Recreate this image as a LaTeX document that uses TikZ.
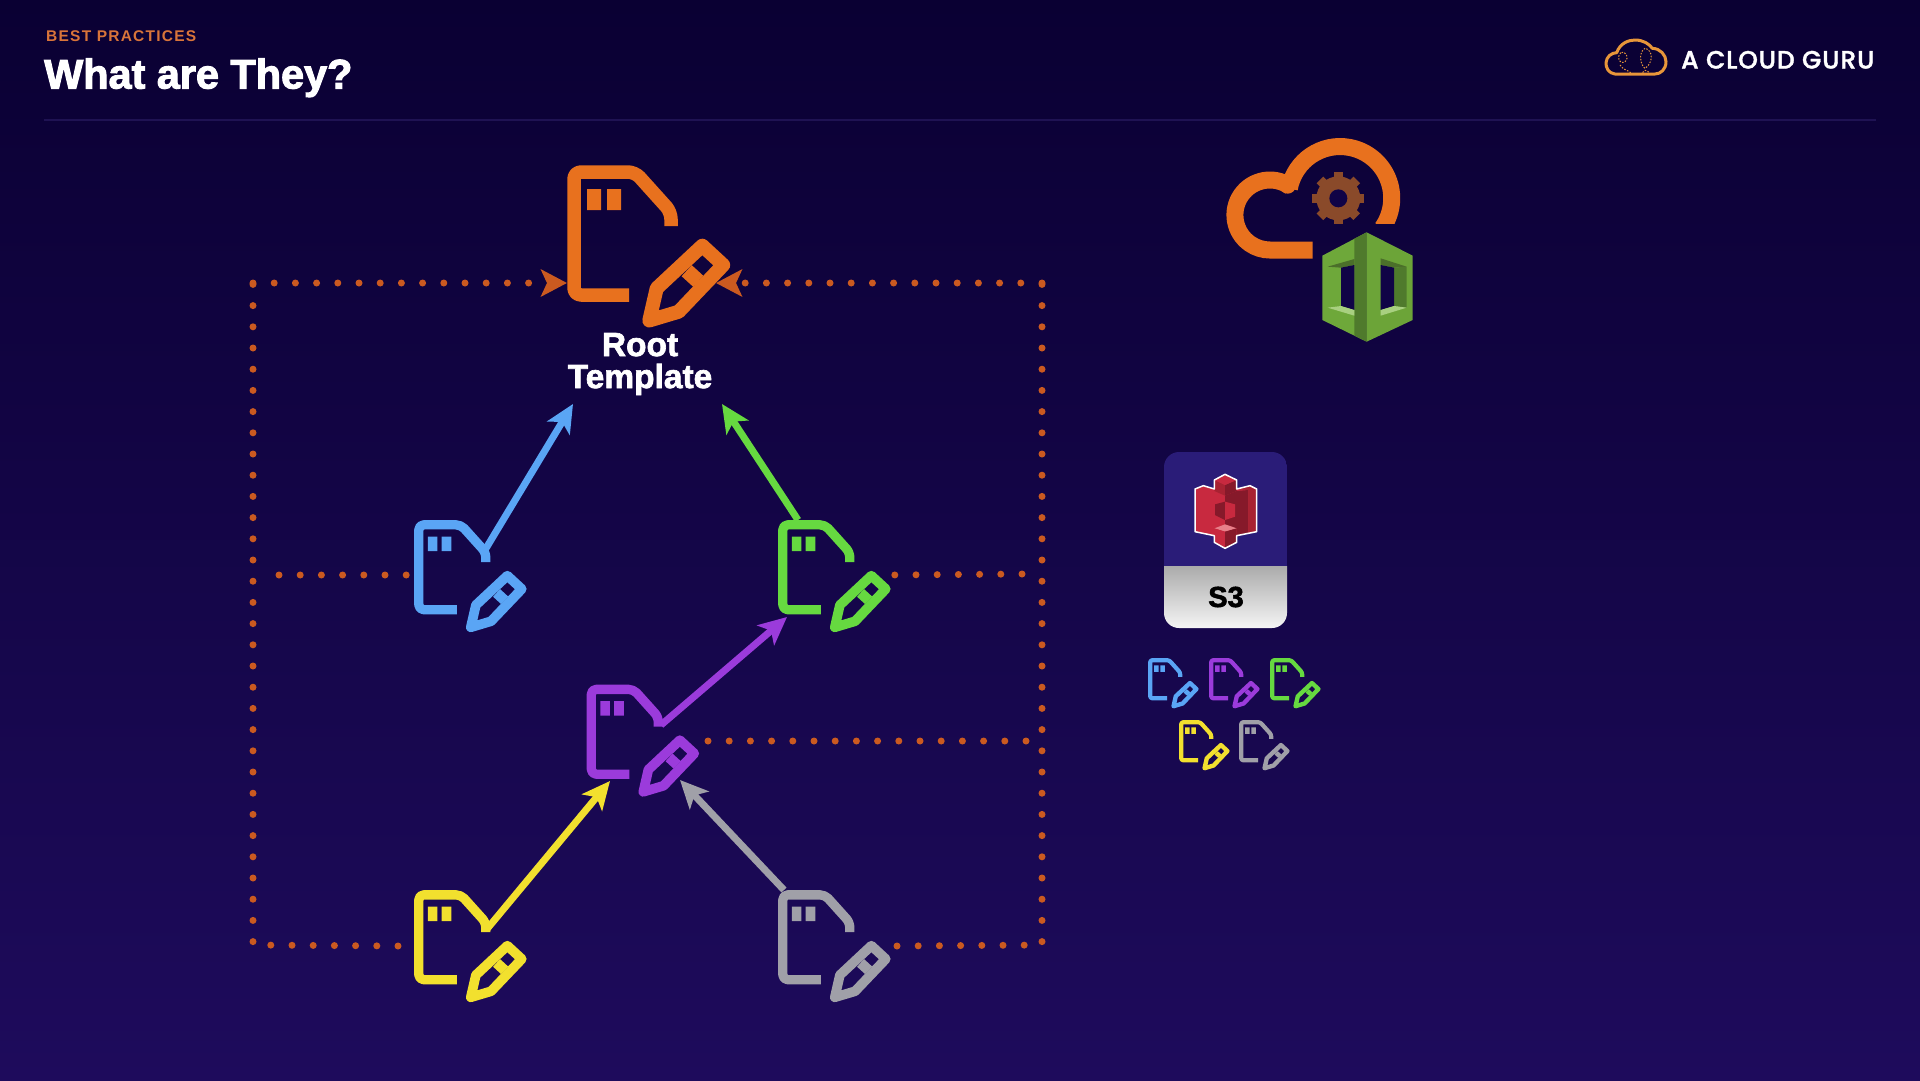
\documentclass[tikz,border=0pt]{standalone}
\usepackage{fontspec}
\usetikzlibrary{arrows.meta}
\setmainfont{Liberation Sans}
\newfontfamily\popfont{Poppins Medium}
\definecolor{bgtop}{HTML}{0A0033}
\definecolor{bgbot}{HTML}{1E0B5C}
\definecolor{bgmid}{HTML}{100346}
\definecolor{cOrange}{HTML}{E8711E}
\definecolor{cBlue}{HTML}{5AA5F5}
\definecolor{cGreen}{HTML}{66D940}
\definecolor{cPurple}{HTML}{9B3BDB}
\definecolor{cYellow}{HTML}{F2E02E}
\definecolor{cGrey}{HTML}{A0A0A8}
\definecolor{cDot}{HTML}{CB5A20}
\definecolor{cKick}{HTML}{D9743A}
\definecolor{cRule}{HTML}{1F1253}
\definecolor{gLight}{HTML}{6EA83A}
\definecolor{gRight}{HTML}{6CA438}
\definecolor{gDark}{HTML}{4B6F2A}
\definecolor{gMid}{HTML}{4F7A2C}
\definecolor{gSill}{HTML}{A8D080}
\definecolor{rLight}{HTML}{C8293F}
\definecolor{rMid}{HTML}{A82232}
\definecolor{rDark}{HTML}{86192A}
\definecolor{rPink}{HTML}{E8808A}
\definecolor{cardTop}{HTML}{2A1C78}
\definecolor{gearc}{HTML}{8A4A2A}
\definecolor{logoc}{HTML}{E8963A}
\newcommand{\docicon}[5]{% name, x, y, scale, colour
  \begin{scope}[shift={(#2,#3)},scale=#4]
    \coordinate (#1) at (0,0);
    \draw[#5,line width=13.5*#4 pt,line cap=butt,line join=round,rounded corners=7*#4 pt]
      (62,130) -- (7,130) -- (7,7) -- (68,7) -- (104,47) -- (104,61);
    \fill[#5] (20,24) rectangle (34,45) (40,24) rectangle (54,45);
    \draw[#5,line width=14*#4 pt,line join=round]
      (82.3,155.5) -- (89.7,123.3) -- (135.3,80.7) -- (156.2,100) -- (111.7,146.7) -- cycle;
    \draw[#5,line width=15*#4 pt] (119.7,105.7) -- (131.3,116.3);
  \end{scope}}
\tikzset{
  dotline/.style={cDot,line width=7pt,line cap=round,dash pattern=on 0pt off 21.2pt},
  dottip/.style={-{Stealth[length=26pt,width=27pt,inset=6pt,cDot]}},
  link/.style={line width=7pt,-{Stealth[length=28pt,width=26pt,inset=7pt]}},
  root/.style={font=\fontsize{33.5}{32}\selectfont,text=white,align=center}
}
\begin{document}
\begin{tikzpicture}[x=1pt,y=1pt,yscale=-1]
\useasboundingbox (0,0) rectangle (1920,1080);
\shade[top color=bgtop,bottom color=bgbot] (0,0) rectangle (1920,1080);
% header
\node[anchor=base west,inner sep=0,text=cKick,font=\bfseries\fontsize{15.5}{18}\selectfont] (kicker) at (46,41) {\addfontfeature{LetterSpace=8}BEST PRACTICES};
\node[anchor=base west,inner sep=0,text=white,font=\bfseries\fontsize{41.4}{46}\selectfont] (title) at (44,88.5) {\addfontfeature{FakeBold=2.5}What are They?};
\draw[cRule,line width=2pt] (44,120) -- (1876,120);
\node[anchor=base west,inner sep=0,text=white,font=\popfont\fontsize{25}{28}\selectfont] (brand) at (1681,68.5) {\addfontfeature{LetterSpace=3.6,FakeBold=1.5}A CLOUD GURU};
% logo cloud
\begin{scope}[shift={(1590,20)},scale=1/3]
  \draw[color=logoc,line width=3pt,line join=round]
    (75,162) .. controls (55,160) and (47,142) .. (48,128) .. controls (49,110) and (65,98) .. (80,98)
    .. controls (90,70) and (115,60) .. (135,60) .. controls (160,60) and (178,72) .. (187,85)
    .. controls (210,85) and (228,105) .. (228,125) .. controls (228,148) and (212,162) .. (195,162) -- cycle;
  \draw[color=logoc,line width=1pt,dash pattern=on 1.5pt off 1.5pt]
    (92,98) .. controls (78,112) and (88,135) .. (105,125) .. controls (120,112) and (105,90) .. (92,98)
    (90,135) .. controls (100,150) and (112,150) .. (122,158)
    (165,85) .. controls (145,95) and (150,135) .. (165,145) .. controls (190,130) and (190,90) .. (165,85)
    (158,158) .. controls (162,150) and (168,148) .. (178,158);
\end{scope}
% dotted links
\coordinate (rootL) at (567,283);
\coordinate (rootR) at (716,283);
\coordinate (lc1) at (253,283);
\coordinate (lc2) at (253,945);
\coordinate (lend) at (398,946);
\coordinate (rc1) at (1042,283);
\coordinate (rc2) at (1042,945);
\coordinate (rend) at (897,946);
\coordinate (bl) at (279,575);
\coordinate (blE) at (408,575);
\coordinate (gr) at (1022,574);
\coordinate (grE) at (890,575);
\coordinate (pr) at (1036,741);
\coordinate (prE) at (708,741);
\draw[dotline] (lend) -- (lc2) -- (lc1);
\draw[dotline] (rend) -- (rc2) -- (rc1);
\draw[dotline] (bl) -- (blE);
\draw[dotline] (gr) -- (grE);
\draw[dotline] (prE) -- (pr);
\draw[dotline,dottip] (lc1) -- (rootL);
\draw[dotline,dottip] (rc1) -- (rootR);
% big icons
\docicon{iroot}{567}{165}{1}{cOrange}
\docicon{iblue}{414}{520}{.69}{cBlue}
\docicon{igreen}{778}{520}{.69}{cGreen}
\docicon{ipurple}{586.5}{684.5}{.69}{cPurple}
\docicon{iyellow}{414}{890}{.69}{cYellow}
\docicon{igrey}{778}{890}{.69}{cGrey}
\node[root] (roottext) at (640,364) {\bfseries\addfontfeature{FakeBold=2}Root\\\bfseries\addfontfeature{FakeBold=2}Template};
% arrows
\coordinate (blueOut) at (485,550);
\coordinate (greenOut) at (798,520);
\coordinate (purpleOut) at (661,725);
\coordinate (yellowOut) at (487,929);
\coordinate (greyOut) at (784,890);
\coordinate (rootInL) at (573,404);
\coordinate (rootInR) at (722,404);
\coordinate (greenIn) at (787,617);
\coordinate (purpleInL) at (610,781);
\coordinate (purpleInR) at (680,780);
\draw[link,cBlue] (blueOut) -- (rootInL);
\draw[link,cGreen] (greenOut) -- (rootInR);
\draw[link,cPurple] (purpleOut) -- (greenIn);
\draw[link,cYellow] (yellowOut) -- (purpleInL);
\draw[link,cGrey] (greyOut) -- (purpleInR);
% CloudFormation cloud
\begin{scope}[shift={(1200,120)},scale=1/3]
  \begin{scope}
    \clip (200,0) rectangle (700,310);
    \draw[cOrange,line width=17pt] (268,205) arc (191:395:155);
  \end{scope}
  \draw[cOrange,line width=17pt] (270,199) arc (-55:-270:105) -- (338,390);
  \fill[cOrange] (263,196) circle (25);
  \begin{scope}[shift={(415,235)}]
    \foreach \a in {0,45,...,315}{\fill[gearc,rotate=\a] (-14,-78) rectangle (14,-50);}
    \fill[gearc] (0,0) circle (66);
    \fill[bgmid] (0,0) circle (27);
  \end{scope}
\end{scope}
% cube
\begin{scope}[shift={(1310,225)},scale=1/3]
  \fill[gLight] (37,92) -- (170,22) -- (170,350) -- (37,285) -- cycle;
  \fill[gRight] (170,22) -- (308,92) -- (308,285) -- (170,350) -- cycle;
  \fill[gMid] (133,41) -- (170,22) -- (170,350) -- (133,332) -- cycle;
  \fill[gDark] (53,125) -- (133,102) -- (133,120) -- (93,128) -- cycle;
  \fill[bgmid] (93,128) -- (133,120) -- (133,255) -- (93,243) -- cycle;
  \fill[gSill] (53,248) -- (93,243) -- (133,255) -- (133,272) -- cycle;
  \fill[gDark] (212,100) -- (290,125) -- (252,128) -- (212,120) -- cycle;
  \fill[gMid] (252,128) -- (290,125) -- (290,248) -- (252,243) -- cycle;
  \fill[bgmid] (212,120) -- (252,128) -- (252,243) -- (212,255) -- cycle;
  \fill[gSill] (212,255) -- (252,243) -- (290,248) -- (212,272) -- cycle;
\end{scope}
% S3 card
\begin{scope}
  \clip[rounded corners=15pt] (1164,452) rectangle (1287,628);
  \fill[cardTop] (1164,452) rectangle (1287,566);
  \shade[top color=black!33,bottom color=black!4] (1164,566) rectangle (1287,628);
\end{scope}
\node[text=black,inner sep=0,font=\bfseries\fontsize{29}{30}\selectfont] (s3) at (1226,597) {\addfontfeature{FakeBold=2}S3};
\begin{scope}[shift={(1185,465)},scale=1/3]
  \fill[rLight]
    (120,28) -- (155,45) -- (155,72) -- (195,62) -- (215,72) -- (215,200) -- (155,212) -- (155,232) -- (120,250)
    -- (88,232) -- (88,212) -- (30,200) -- (30,72) -- (55,62) -- (88,72) -- (88,45) -- cycle;
  \fill[rDark] (120,92) -- (155,78) -- (190,75) -- (190,205) -- (155,212) -- (155,190) -- (120,178) -- cycle;
  \fill[rMid] (155,72) -- (195,62) -- (215,72) -- (215,200) -- (190,205) -- (190,75) -- cycle;
  \fill[rMid] (88,45) -- (120,60) -- (120,92) -- (88,78) -- cycle;
  \fill[rDark] (120,60) -- (155,45) -- (155,78) -- (120,92) -- cycle;
  \fill[rLight] (88,45) -- (120,28) -- (155,45) -- (120,60) -- cycle;
  \fill[rDark] (90,118) -- (120,110) -- (120,165) -- (90,150) -- cycle;
  \fill[rLight] (120,110) -- (150,118) -- (150,155) -- (120,165) -- cycle;
  \fill[rPink] (88,190) -- (120,178) -- (155,190) -- (120,200) -- cycle;
  \fill[rLight] (88,190) -- (120,200) -- (120,250) -- (88,232) -- cycle;
  \fill[rDark] (120,200) -- (155,190) -- (155,232) -- (120,250) -- cycle;
  \draw[white,line width=1.5pt,line join=round]
    (120,28) -- (155,45) -- (155,72) -- (195,62) -- (215,72) -- (215,200) -- (155,212) -- (155,232) -- (120,250)
    -- (88,232) -- (88,212) -- (30,200) -- (30,72) -- (55,62) -- (88,72) -- (88,45) -- cycle;
\end{scope}
% small icons
\docicon{sblue}{1148}{658}{.31}{cBlue}
\docicon{spurple}{1209}{658}{.31}{cPurple}
\docicon{sgreen}{1270}{658}{.31}{cGreen}
\docicon{syellow}{1179}{720}{.31}{cYellow}
\docicon{sgrey}{1239}{720}{.31}{cGrey}
\end{tikzpicture}
\end{document}
